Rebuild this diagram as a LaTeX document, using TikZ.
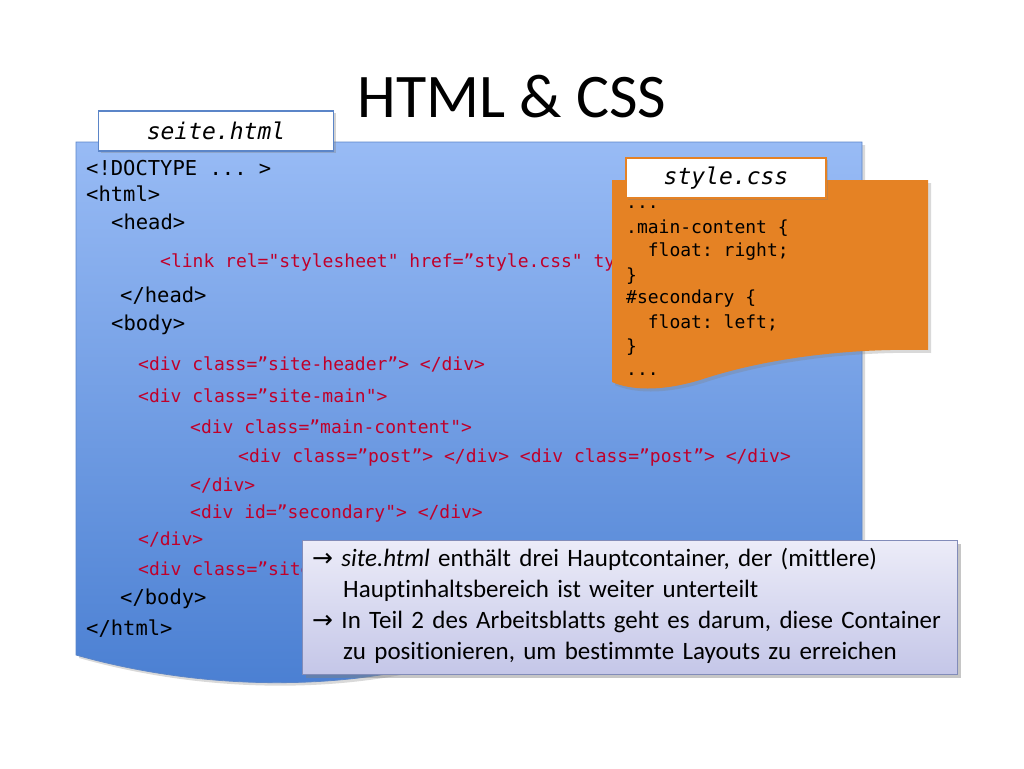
\documentclass[tikz,border=0pt]{standalone}
\usepackage{fontspec}
\setmainfont{Carlito}[Ligatures=NoCommon]
\setmonofont{DejaVu Sans Mono}
\newfontfamily\arrowfont{DejaVu Sans}
\usetikzlibrary{shadows}
\definecolor{codered}{HTML}{C0002A}
\definecolor{orangedoc}{HTML}{E58224}
\definecolor{bluetop}{HTML}{98BBF5}
\definecolor{bluebot}{HTML}{4A7FD2}
\definecolor{bluebord}{HTML}{5B85C8}
\tikzset{
 code/.style={anchor=west,inner sep=0pt,font=\ttfamily\fontsize{20.5}{20.5}\selectfont},
 rcode/.style={anchor=west,inner sep=0pt,text=codered,font=\ttfamily\fontsize{18}{18}\selectfont},
 ocode/.style={anchor=west,inner sep=0pt,font=\ttfamily\fontsize{18}{18}\selectfont},
 tag/.style={draw,line width=1.5pt,fill=white,minimum width=#1,minimum height=40pt,inner sep=0pt,
   font=\ttfamily\itshape\fontsize{23}{23}\selectfont,drop shadow={opacity=0.35,shadow xshift=2pt,shadow yshift=-2pt}},
}
\begin{document}
\begin{tikzpicture}[x=1pt,y=-1pt]
\useasboundingbox (0,0) rectangle (1024,768);
\node (title) at (512,97) {\fontsize{62}{62}\selectfont HTML \& CSS};
% blue document
\path[top color=bluetop,bottom color=bluebot,draw=bluebord,line width=0.8pt,drop shadow={opacity=0.3,shadow xshift=3pt,shadow yshift=-3pt}]
 (76,142) -- (862,142) -- (862,640) .. controls (700,615) and (520,640) .. (430,665)
 .. controls (330,690) and (200,690) .. (76,655) -- cycle;
\node[tag=235pt,draw=bluebord] (seite) at (216,131) {seite.html};
\node[code] (l1) at (86,168) {<!DOCTYPE ... >};
\node[code] (l2) at (86,194) {<html>};
\node[code] (l3) at (111,222) {<head>};
\node[rcode] (l4) at (160,262) {<link rel="stylesheet" href=”style.css" type="text/css">};
\node[code] (l5) at (120,296) {</head>};
\node[code] (l6) at (111,325) {<body>};
\node[rcode] (l7) at (138,364) {<div class=”site-header”> </div>};
\node[rcode] (l8) at (138,396) {<div class=”site-main">};
\node[rcode] (l9) at (190,427) {<div class=”main-content">};
\node[rcode] (l10) at (238,457) {<div class=”post”> </div> <div class=”post”> </div>};
\node[rcode] (l11) at (190,485) {</div>};
\node[rcode] (l12) at (190,514) {<div id=”secondary"> </div>};
\node[rcode] (l13) at (138,539) {</div>};
\node[rcode] (l14) at (138,569) {<div class=”site-footer”> </div>};
\node[code] (l15) at (120,599) {</body>};
\node[code] (l16) at (86,629) {</html>};
% orange document
\path[fill=orangedoc,drop shadow={opacity=0.3,shadow xshift=3pt,shadow yshift=-3pt}]
 (612,180) -- (928,180) -- (928,350) .. controls (840,348) and (760,360) .. (700,380)
 .. controls (660,392) and (630,390) .. (612,382) -- cycle;
\node[ocode] (o1) at (626,207) {...};
\node[ocode] (o2) at (626,228) {.main-content \{};
\node[ocode] (o3) at (626,252) {\ \ float: right;};
\node[ocode] (o4) at (626,276) {\}};
\node[ocode] (o5) at (626,299) {\#secondary \{};
\node[ocode] (o6) at (626,323) {\ \ float: left;};
\node[ocode] (o7) at (626,347) {\}};
\node[ocode] (o8) at (626,374) {...};
\node[tag=200pt,draw=orangedoc] (style) at (726,178) {style.css};
% note box
\node[draw={rgb,255:red,130;green,140;blue,185},line width=1pt,top color={rgb,255:red,236;green,236;blue,248},bottom color={rgb,255:red,196;green,198;blue,232},
 minimum width=655pt,minimum height=134pt,inner sep=0pt,anchor=north west,
 drop shadow={opacity=0.45,shadow xshift=3pt,shadow yshift=-3pt}] (note) at (302,540) {};
\node[anchor=north west,text width=640pt,align=left,inner sep=0pt,font=\fontsize{25}{31}\selectfont] (notetext) at (312,548)
 {{\arrowfont\fontsize{25}{25}\selectfont →} \textit{site.html} enthält drei Hauptcontainer, der (mittlere)\\
 \hspace*{31pt}Hauptinhaltsbereich ist weiter unterteilt\\
 {\arrowfont\fontsize{25}{25}\selectfont →} In Teil 2 des Arbeitsblatts geht es darum, diese Container\\
 \hspace*{31pt}zu positionieren, um bestimmte Layouts zu erreichen};
\end{tikzpicture}
\end{document}
